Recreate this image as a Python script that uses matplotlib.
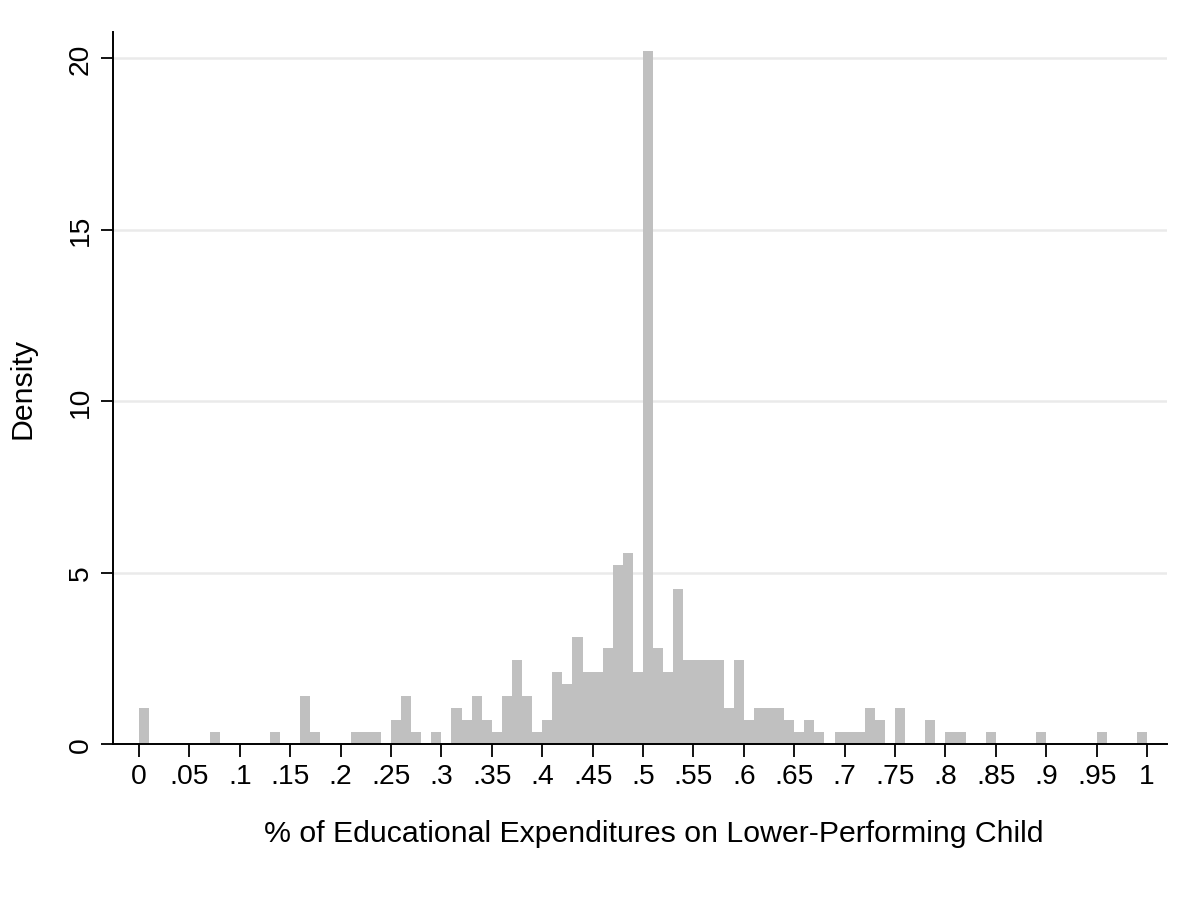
import matplotlib
matplotlib.use("Agg")
import matplotlib.pyplot as plt
import numpy as np

# Bin layout: 100 bins of width .01 over [0, 1]
bin_width = 0.01
bin_edges = np.round(np.arange(0, 1 + bin_width / 2, bin_width), 2)

# Number of households in each bin
counts = np.array([
    3, 0, 0, 0, 0, 0, 0, 1, 0, 0,
    0, 0, 0, 1, 0, 0, 4, 1, 0, 0,
    0, 1, 1, 1, 0, 2, 4, 1, 0, 1,
    0, 3, 2, 4, 2, 1, 4, 7, 4, 1,
    2, 6, 5, 9, 6, 6, 8, 15, 16, 6,
    58, 8, 6, 13, 7, 7, 7, 7, 3, 7,
    2, 3, 3, 3, 2, 1, 2, 1, 0, 1,
    1, 1, 3, 2, 0, 3, 0, 0, 2, 0,
    1, 1, 0, 0, 1, 0, 0, 0, 0, 1,
    0, 0, 0, 0, 0, 1, 0, 0, 0, 1,
])
density = counts / (counts.sum() * bin_width)

x_ticks = np.round(np.arange(0, 1.001, 0.05), 2)
x_tick_labels = ["0", ".05", ".1", ".15", ".2", ".25", ".3", ".35", ".4", ".45",
                 ".5", ".55", ".6", ".65", ".7", ".75", ".8", ".85", ".9", ".95", "1"]
y_ticks = [0, 5, 10, 15, 20]

plt.rcParams["font.family"] = ["Liberation Sans", "DejaVu Sans"]

fig = plt.figure(figsize=(11.99, 9.03), dpi=100)
ax = fig.add_axes([113 / 1199, 1 - 745 / 903, 1054 / 1199, 712 / 903])

# histogram drawn as one filled step polygon (no seams between bars)
ax.stairs(density, bin_edges, fill=True, color="#c0c0c0", linewidth=0, zorder=2)

ax.set_xlim(-0.0258, 1.0198)
ax.set_ylim(0, 20.77)

ax.set_yticks(y_ticks)
ax.set_yticklabels([str(v) for v in y_ticks], rotation=90, va="center")
ax.set_xticks(x_ticks)
ax.set_xticklabels(x_tick_labels)

ax.yaxis.grid(True, color="#eaeaea", linewidth=1.8)
ax.set_axisbelow(True)

for side in ["top", "right"]:
    ax.spines[side].set_visible(False)
for side in ["left", "bottom"]:
    ax.spines[side].set_linewidth(1.4)
    ax.spines[side].set_color("black")

ax.tick_params(axis="both", direction="out", length=9, width=1.3,
               color="black", labelsize=20.3)
ax.tick_params(axis="x", pad=5)
ax.tick_params(axis="y", pad=5)

ax.set_xlabel("% of Educational Expenditures on Lower-Performing Child", fontsize=21.8)
ax.set_ylabel("Density", fontsize=21.8)
ax.xaxis.set_label_coords(0.513, -0.105)
ax.yaxis.set_label_coords(-0.073, 0.5)

fig.savefig("out.png", dpi=100, facecolor="white")
